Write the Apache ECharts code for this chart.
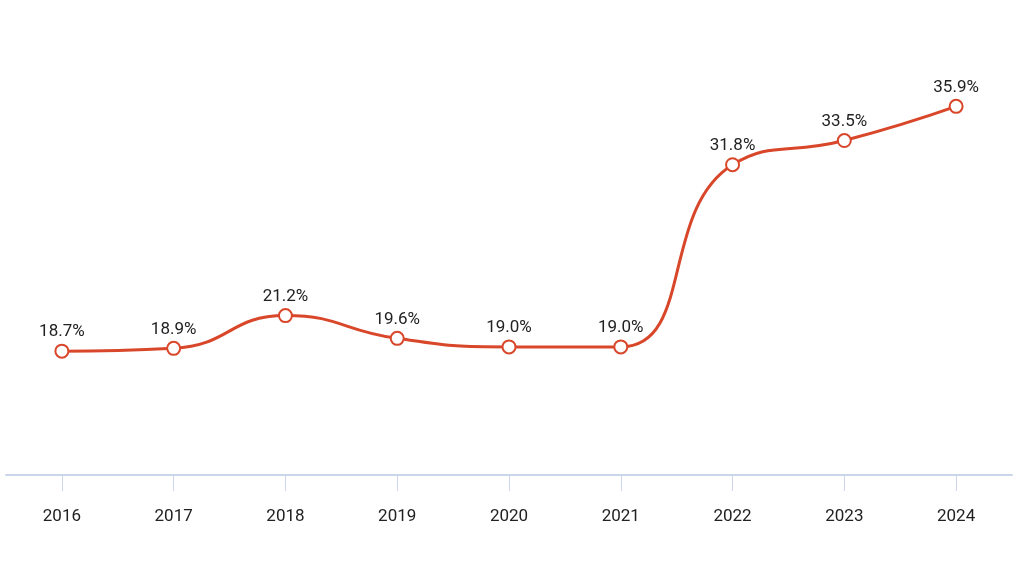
<!DOCTYPE html>
<html><head><meta charset="utf-8">
<script src="https://cdn.jsdelivr.net/npm/echarts@6/dist/echarts.min.js"></script>
<style>html,body{margin:0;padding:0;background:#fff}#c{width:1024px;height:562px}</style>
</head><body><div id="c"></div>
<script>
const years = ['2016','2017','2018','2019','2020','2021','2022','2023','2024'];
const shareValues = [18.7, 18.9, 21.2, 19.6, 19.0, 19.0, 31.8, 33.5, 35.9];
const chart = echarts.init(document.getElementById('c'));
chart.setOption({
  animation: false,
  grid: {left: 6, right: 12, top: 48, bottom: 87},
  xAxis: {
    type: 'category', data: years, boundaryGap: true,
    axisLine: {show: true, lineStyle: {color: '#ccd6eb', width: 2}},
    axisTick: {show: true, alignWithLabel: true, length: 16, lineStyle: {color: '#ccd6eb', width: 1}},
    axisLabel: {color: '#222', fontSize: 17, fontFamily: 'Roboto', margin: 33}
  },
  yAxis: {type: 'value', min: 10, max: 40, show: false, splitLine: {show: false}},
  series: [{
    type: 'line', data: shareValues, smooth: true,
    symbol: 'emptyCircle', symbolSize: 13,
    lineStyle: {color: '#d9472b', width: 3},
    itemStyle: {color: '#d9472b', borderWidth: 3, borderColor: '#d9472b'},
    label: {show: true, position: 'top', distance: 3, color: '#222', fontSize: 17, fontFamily: 'Roboto',
      formatter: p => p.value.toFixed(1) + '%'}
  }]
});
</script></body></html>
